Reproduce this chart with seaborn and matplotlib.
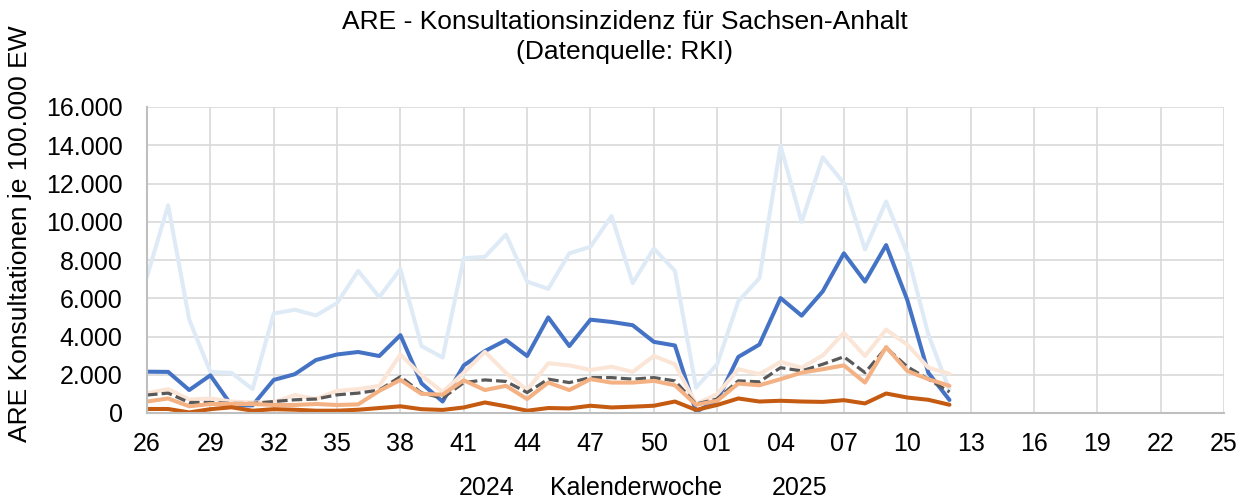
import pandas as pd
import matplotlib
matplotlib.use("Agg")
import matplotlib.pyplot as plt
import seaborn as sns

# Kalenderwochen auf der x-Achse (2024 KW26 bis 2025 KW25)
weeks_2024 = [26, 27, 28, 29, 30, 31, 32, 33, 34, 35, 36, 37, 38, 39, 40, 41, 42,
              43, 44, 45, 46, 47, 48, 49, 50, 51, 52]
weeks_2025 = [1, 2, 3, 4, 5, 6, 7, 8, 9, 10, 11, 12, 13, 14, 15, 16, 17, 18, 19,
              20, 21, 22, 23, 24, 25]
tick_weeks = ["26", "29", "32", "35", "38", "41", "44", "47", "50", "01", "04",
              "07", "10", "13", "16", "19", "22", "25"]
y_ticks = [0, 2000, 4000, 6000, 8000, 10000, 12000, 14000, 16000]

# Konsultationen je 100.000 EW, KW26/2024 bis KW12/2025
age_0_4 = [7130, 10860, 4880, 2150, 2100, 1250, 5200, 5400, 5100, 5750, 7430,
           6060, 7530, 3500, 2900, 8090, 8170, 9330, 6870, 6490, 8350, 8690,
           10300, 6790, 8600, 7430, 1330, 2550, 5840, 7050, 13970, 9990, 13370,
           12020, 8550, 11060, 8350, 4100, 1200]
age_5_14 = [2160, 2150, 1200, 1970, 400, 400, 1730, 2030, 2770, 3060, 3190,
            2980, 4070, 1550, 600, 2490, 3240, 3810, 2980, 5000, 3500, 4880,
            4760, 4590, 3720, 3530, 70, 650, 2930, 3580, 6010, 5090, 6360, 8350,
            6870, 8780, 5920, 2100, 680]
age_15_34 = [1040, 1250, 700, 760, 600, 550, 550, 940, 730, 1160, 1250, 1420,
             3060, 1970, 1100, 2100, 3200, 2100, 1200, 2600, 2490, 2250, 2420,
             2150, 2980, 2550, 470, 990, 2290, 2030, 2670, 2370, 3010, 4190,
             2980, 4360, 3580, 2370, 2050]
age_35_59 = [600, 760, 350, 470, 470, 470, 420, 420, 470, 420, 450, 1160, 1730,
             1000, 960, 1710, 1200, 1420, 730, 1590, 1200, 1770, 1590, 1590,
             1680, 1450, 430, 640, 1540, 1450, 1770, 2110, 2290, 2490, 1590,
             3450, 2200, 1770, 1420]
age_60_plus = [210, 210, 30, 200, 300, 120, 200, 170, 120, 120, 170, 260, 350,
               200, 160, 290, 550, 350, 120, 260, 240, 380, 290, 330, 380, 600,
               160, 420, 760, 600, 640, 600, 580, 670, 500, 1020, 810, 690, 430]
total = [940, 1040, 550, 550, 500, 500, 600, 690, 730, 950, 1040, 1200, 1900,
         1050, 780, 1590, 1730, 1650, 1070, 1770, 1590, 1850, 1850, 1770, 1850,
         1680, 470, 730, 1680, 1630, 2370, 2200, 2550, 2940, 2110, 3410, 2420,
         1770, 1100]

series = [
    ("0-4", age_0_4, "#deebf7", "-"),
    ("5-14", age_5_14, "#4472c4", "-"),
    ("15-34", age_15_34, "#fbe5d6", "-"),
    ("gesamt", total, "#595959", (0, (3.3, 1.3))),
    ("35-59", age_35_59, "#f4b183", "-"),
    ("60+", age_60_plus, "#c55a11", "-"),
]

axis_labels = [f"{w:02d}" for w in weeks_2024 + weeks_2025]
pos = {lab: i for i, lab in enumerate(axis_labels)}
n_data = len(total)
df = pd.DataFrame({"pos": list(range(len(axis_labels)))[:n_data]})
for name, vals, _, _ in series:
    df[name] = vals

sns.set_style("white")
plt.rcParams["font.family"] = ["Liberation Sans", "DejaVu Sans"]
plt.rcParams["text.color"] = "black"

fig = plt.figure(figsize=(12.5, 5.01), dpi=100)
ax = fig.add_axes([147 / 1250, 1 - 413 / 501, 1077 / 1250, 306 / 501])

for name, _, color, ls in series:
    lw = 2.3 if name == "gesamt" else 2.9
    sns.lineplot(data=df, x="pos", y=name, color=color, linewidth=lw,
                 linestyle=ls, ax=ax, legend=False,
                 solid_joinstyle="round", solid_capstyle="round")

ax.set_xlim(0, len(axis_labels) - 1)
ax.set_ylim(0, 16000)
ax.set_xticks([pos[t] for t in tick_weeks])
ax.set_xticklabels(tick_weeks)
ax.set_yticks(y_ticks)
ax.set_yticklabels([f"{v:,}".replace(",", ".") for v in y_ticks])
ax.set_xlabel("")
ax.set_ylabel("")

ax.grid(True, color="#d9d9d9", linewidth=1.2)
ax.set_axisbelow(True)
for side in ["top", "right"]:
    ax.spines[side].set_visible(False)
for side in ["left", "bottom"]:
    ax.spines[side].set_color("#bfbfbf")
    ax.spines[side].set_linewidth(1.5)
ax.tick_params(axis="both", direction="out", width=1.5,
               color="#bfbfbf", labelsize=18, labelcolor="black")
ax.tick_params(axis="x", length=6, pad=8)
ax.tick_params(axis="y", length=4.5, pad=13)

fig.text(0.5, 1 - 22 / 501, "ARE - Konsultationsinzidenz für Sachsen-Anhalt",
         ha="center", va="center", fontsize=19, color="black")
fig.text(0.5, 1 - 52 / 501, "(Datenquelle: RKI)",
         ha="center", va="center", fontsize=19, color="black")
fig.text(20 / 1250, 1 - 234 / 501, "ARE Konsultationen je 100.000 EW",
         rotation=90, ha="center", va="center", fontsize=19, color="black")
fig.text(487 / 1250, 1 - 488 / 501, "2024", ha="center", va="center",
         fontsize=18, color="black")
fig.text(636 / 1250, 1 - 488 / 501, "Kalenderwoche", ha="center", va="center",
         fontsize=18, color="black")
fig.text(800 / 1250, 1 - 488 / 501, "2025", ha="center", va="center",
         fontsize=18, color="black")

fig.savefig("out.png", dpi=100)
